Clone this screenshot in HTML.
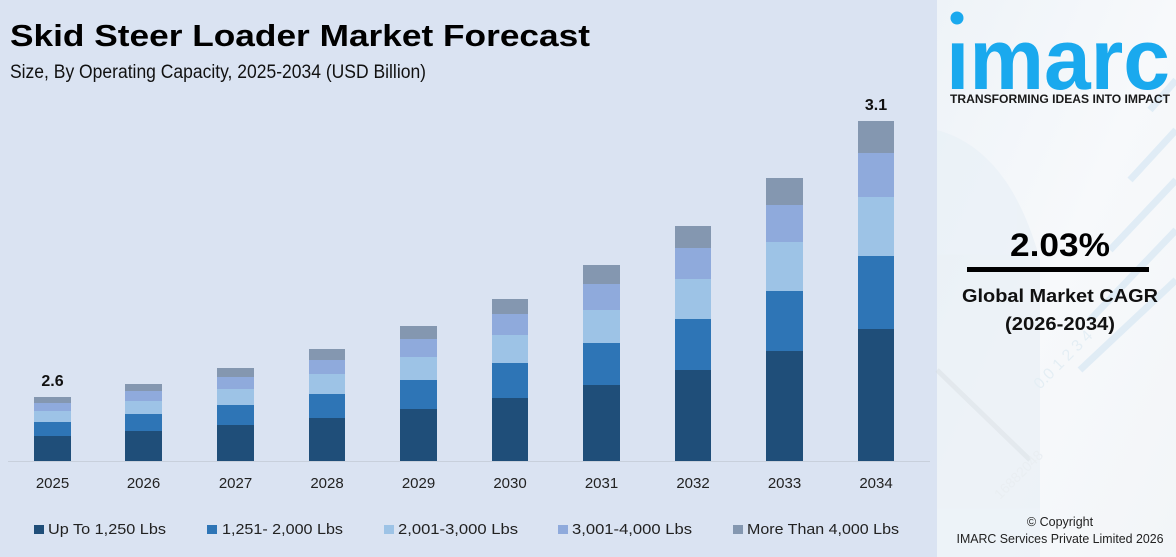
<!DOCTYPE html>
<html><head><meta charset="utf-8"><style>
html,body{margin:0;padding:0;width:1176px;height:557px;overflow:hidden;background:#dae3f2;}
svg{display:block;}
</style></head><body>
<svg width="1176" height="557" viewBox="0 0 1176 557" xmlns="http://www.w3.org/2000/svg" font-family="'Liberation Sans', sans-serif">
<defs>
<linearGradient id="rp" x1="0" y1="0" x2="1" y2="1">
<stop offset="0" stop-color="#eef3f8"/><stop offset="0.5" stop-color="#f7f9fb"/><stop offset="1" stop-color="#f2f5f8"/>
</linearGradient>
</defs>
<rect x="0" y="0" width="937" height="557" fill="#dae3f2"/>
<rect x="937" y="0" width="239" height="557" fill="url(#rp)"/>
<!-- faint decor right panel -->
<g opacity="0.55">
<path d="M937 130 Q1010 150 1040 260 L1040 557 L937 557 Z" fill="#e6eef5"/>
<g stroke="#cfe4f2" stroke-width="7">
<line x1="1150" y1="110" x2="1176" y2="80"/>
<line x1="1130" y1="180" x2="1176" y2="130"/>
<line x1="1110" y1="250" x2="1176" y2="180"/>
<line x1="1090" y1="320" x2="1176" y2="230"/>
<line x1="1080" y1="370" x2="1176" y2="280"/>
</g>
<line x1="937" y1="370" x2="1030" y2="460" stroke="#d5dde4" stroke-width="5"/>
<text x="1040" y="390" font-size="16" fill="#d6e6f0" transform="rotate(-45 1040 390)">0.0 1 2 3 4</text>
<text x="1000" y="500" font-size="14" fill="#e0e6ec" transform="rotate(-45 1000 500)">16882048</text>
</g>
<!-- title -->
<text x="10" y="46" font-size="31" font-weight="bold" fill="#000" textLength="580" lengthAdjust="spacingAndGlyphs">Skid Steer Loader Market Forecast</text>
<text x="10" y="78" font-size="19" fill="#111" textLength="416" lengthAdjust="spacingAndGlyphs">Size, By Operating Capacity, 2025-2034 (USD Billion)</text>
<!-- baseline -->
<line x1="8" y1="461.5" x2="930" y2="461.5" stroke="#c8d0dc" stroke-width="1"/>
<!-- bars -->
<g id="bars"></g>
<g>
<!-- 2025 -->
<rect x="34" y="397" width="37" height="6" fill="#8497b0"/><rect x="34" y="403" width="37" height="8" fill="#8faadc"/><rect x="34" y="411" width="37" height="11" fill="#9dc3e6"/><rect x="34" y="422" width="37" height="14" fill="#2e75b6"/><rect x="34" y="436" width="37" height="25" fill="#1f4e79"/>
<!-- 2026 -->
<rect x="125" y="384" width="37" height="7" fill="#8497b0"/><rect x="125" y="391" width="37" height="10" fill="#8faadc"/><rect x="125" y="401" width="37" height="13" fill="#9dc3e6"/><rect x="125" y="414" width="37" height="17" fill="#2e75b6"/><rect x="125" y="431" width="37" height="30" fill="#1f4e79"/>
<!-- 2027 -->
<rect x="217" y="368" width="37" height="9" fill="#8497b0"/><rect x="217" y="377" width="37" height="12" fill="#8faadc"/><rect x="217" y="389" width="37" height="16" fill="#9dc3e6"/><rect x="217" y="405" width="37" height="20" fill="#2e75b6"/><rect x="217" y="425" width="37" height="36" fill="#1f4e79"/>
<!-- 2028 -->
<rect x="309" y="349" width="36" height="11" fill="#8497b0"/><rect x="309" y="360" width="36" height="14" fill="#8faadc"/><rect x="309" y="374" width="36" height="20" fill="#9dc3e6"/><rect x="309" y="394" width="36" height="24" fill="#2e75b6"/><rect x="309" y="418" width="36" height="43" fill="#1f4e79"/>
<!-- 2029 -->
<rect x="400" y="326" width="37" height="13" fill="#8497b0"/><rect x="400" y="339" width="37" height="18" fill="#8faadc"/><rect x="400" y="357" width="37" height="23" fill="#9dc3e6"/><rect x="400" y="380" width="37" height="29" fill="#2e75b6"/><rect x="400" y="409" width="37" height="52" fill="#1f4e79"/>
<!-- 2030 -->
<rect x="492" y="299" width="36" height="15" fill="#8497b0"/><rect x="492" y="314" width="36" height="21" fill="#8faadc"/><rect x="492" y="335" width="36" height="28" fill="#9dc3e6"/><rect x="492" y="363" width="36" height="35" fill="#2e75b6"/><rect x="492" y="398" width="36" height="63" fill="#1f4e79"/>
<!-- 2031 -->
<rect x="583" y="265" width="37" height="19" fill="#8497b0"/><rect x="583" y="284" width="37" height="26" fill="#8faadc"/><rect x="583" y="310" width="37" height="33" fill="#9dc3e6"/><rect x="583" y="343" width="37" height="42" fill="#2e75b6"/><rect x="583" y="385" width="37" height="76" fill="#1f4e79"/>
<!-- 2032 -->
<rect x="675" y="226" width="36" height="22" fill="#8497b0"/><rect x="675" y="248" width="36" height="31" fill="#8faadc"/><rect x="675" y="279" width="36" height="40" fill="#9dc3e6"/><rect x="675" y="319" width="36" height="51" fill="#2e75b6"/><rect x="675" y="370" width="36" height="91" fill="#1f4e79"/>
<!-- 2033 -->
<rect x="766" y="178" width="37" height="27" fill="#8497b0"/><rect x="766" y="205" width="37" height="37" fill="#8faadc"/><rect x="766" y="242" width="37" height="49" fill="#9dc3e6"/><rect x="766" y="291" width="37" height="60" fill="#2e75b6"/><rect x="766" y="351" width="37" height="110" fill="#1f4e79"/>
<!-- 2034 -->
<rect x="858" y="121" width="36" height="32" fill="#8497b0"/><rect x="858" y="153" width="36" height="44" fill="#8faadc"/><rect x="858" y="197" width="36" height="59" fill="#9dc3e6"/><rect x="858" y="256" width="36" height="73" fill="#2e75b6"/><rect x="858" y="329" width="36" height="132" fill="#1f4e79"/>
</g>
<!-- value labels -->
<text x="52.5" y="386" font-size="16" font-weight="bold" text-anchor="middle" fill="#111">2.6</text>
<text x="876" y="110" font-size="16" font-weight="bold" text-anchor="middle" fill="#111">3.1</text>
<!-- year labels -->
<g font-size="15" fill="#222" text-anchor="middle">
<text x="52.5" y="488">2025</text><text x="143.5" y="488">2026</text><text x="235.5" y="488">2027</text><text x="327" y="488">2028</text><text x="418.5" y="488">2029</text><text x="510" y="488">2030</text><text x="601.5" y="488">2031</text><text x="693" y="488">2032</text><text x="784.5" y="488">2033</text><text x="876" y="488">2034</text>
</g>
<!-- legend -->
<g font-size="15" fill="#222">
<rect x="34" y="525" width="10" height="9" fill="#1f4e79"/><text x="48" y="534" textLength="118" lengthAdjust="spacingAndGlyphs">Up To 1,250 Lbs</text>
<rect x="207" y="525" width="10" height="9" fill="#2e75b6"/><text x="222" y="534" textLength="121" lengthAdjust="spacingAndGlyphs">1,251- 2,000 Lbs</text>
<rect x="384" y="525" width="10" height="9" fill="#9dc3e6"/><text x="398" y="534" textLength="120" lengthAdjust="spacingAndGlyphs">2,001-3,000 Lbs</text>
<rect x="558" y="525" width="10" height="9" fill="#8faadc"/><text x="572" y="534" textLength="120" lengthAdjust="spacingAndGlyphs">3,001-4,000 Lbs</text>
<rect x="733" y="525" width="10" height="9" fill="#8497b0"/><text x="747" y="534" textLength="152" lengthAdjust="spacingAndGlyphs">More Than 4,000 Lbs</text>
</g>
<!-- logo -->
<circle cx="957" cy="18" r="6.5" fill="#1aa9ee"/>
<text x="946" y="89" font-size="86" font-weight="bold" fill="#1aa9ee" textLength="224" lengthAdjust="spacingAndGlyphs">ımarc</text>
<text x="950" y="103" font-size="11.5" font-weight="bold" fill="#1a1a1a" textLength="220" lengthAdjust="spacingAndGlyphs">TRANSFORMING IDEAS INTO IMPACT</text>
<!-- CAGR -->
<text x="1060" y="256" font-size="32" font-weight="bold" text-anchor="middle" fill="#000" textLength="100" lengthAdjust="spacingAndGlyphs">2.03%</text>
<rect x="967" y="267" width="182" height="5" fill="#000"/>
<text x="1060" y="302" font-size="18.5" font-weight="bold" text-anchor="middle" fill="#111" textLength="196" lengthAdjust="spacingAndGlyphs">Global Market CAGR</text>
<text x="1060" y="330" font-size="18.5" font-weight="bold" text-anchor="middle" fill="#111" textLength="110" lengthAdjust="spacingAndGlyphs">(2026-2034)</text>
<!-- copyright -->
<text x="1060" y="526" font-size="12.5" text-anchor="middle" fill="#222">© Copyright</text>
<text x="1060" y="543" font-size="12.5" text-anchor="middle" fill="#222" textLength="207" lengthAdjust="spacingAndGlyphs">IMARC Services Private Limited 2026</text>
</svg>
</body></html>
